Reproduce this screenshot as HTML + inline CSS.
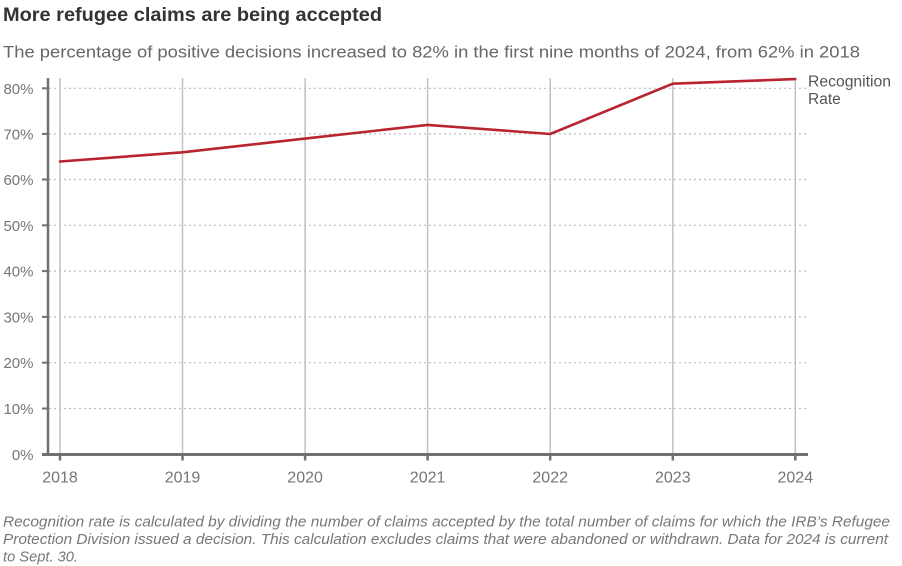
<!DOCTYPE html>
<html>
<head>
<meta charset="utf-8">
<style>
html,body{margin:0;padding:0;background:#fff;}
svg{display:block;}
text{font-family:"Liberation Sans",sans-serif;}
</style>
</head>
<body>
<svg width="902" height="566" viewBox="0 0 902 566" xmlns="http://www.w3.org/2000/svg">
  <rect width="902" height="566" fill="#fff"/>
  <!-- Title -->
  <text x="3" y="21" font-size="19" font-weight="bold" fill="#333" textLength="379" lengthAdjust="spacingAndGlyphs">More refugee claims are being accepted</text>
  <text x="3" y="57.3" font-size="17" fill="#666" textLength="857" lengthAdjust="spacingAndGlyphs">The percentage of positive decisions increased to 82% in the first nine months of 2024, from 62% in 2018</text>

  <!-- horizontal dotted gridlines -->
  <g stroke="#bdbdbd" stroke-width="1.2" stroke-dasharray="2,3">
    <line x1="49" y1="88.3" x2="806" y2="88.3"/>
    <line x1="49" y1="133.9" x2="806" y2="133.9"/>
    <line x1="49" y1="179.5" x2="806" y2="179.5"/>
    <line x1="49" y1="225.3" x2="806" y2="225.3"/>
    <line x1="49" y1="271.1" x2="806" y2="271.1"/>
    <line x1="49" y1="316.9" x2="806" y2="316.9"/>
    <line x1="49" y1="362.7" x2="806" y2="362.7"/>
    <line x1="49" y1="408.5" x2="806" y2="408.5"/>
  </g>

  <!-- vertical gridlines -->
  <g stroke="#c2c2c2" stroke-width="1.5">
    <line x1="60" y1="78" x2="60" y2="454"/>
    <line x1="182.5" y1="78" x2="182.5" y2="454"/>
    <line x1="305.1" y1="78" x2="305.1" y2="454"/>
    <line x1="427.6" y1="78" x2="427.6" y2="454"/>
    <line x1="550.2" y1="78" x2="550.2" y2="454"/>
    <line x1="672.8" y1="78" x2="672.8" y2="454"/>
    <line x1="795.3" y1="78" x2="795.3" y2="454"/>
  </g>

  <!-- axes -->
  <g stroke="#707070">
    <line x1="48" y1="78" x2="48" y2="455" stroke-width="2.5"/>
    <line x1="42" y1="454.5" x2="808" y2="454.5" stroke-width="3"/>
    <g stroke-width="2">
      <line x1="42" y1="88.3" x2="48" y2="88.3"/>
      <line x1="42" y1="133.9" x2="48" y2="133.9"/>
      <line x1="42" y1="179.5" x2="48" y2="179.5"/>
      <line x1="42" y1="225.3" x2="48" y2="225.3"/>
      <line x1="42" y1="271.1" x2="48" y2="271.1"/>
      <line x1="42" y1="316.9" x2="48" y2="316.9"/>
      <line x1="42" y1="362.7" x2="48" y2="362.7"/>
      <line x1="42" y1="408.5" x2="48" y2="408.5"/>
    </g>
    <g stroke-width="2.5">
      <line x1="60" y1="454" x2="60" y2="460.5"/>
      <line x1="182.5" y1="454" x2="182.5" y2="460.5"/>
      <line x1="305.1" y1="454" x2="305.1" y2="460.5"/>
      <line x1="427.6" y1="454" x2="427.6" y2="460.5"/>
      <line x1="550.2" y1="454" x2="550.2" y2="460.5"/>
      <line x1="672.8" y1="454" x2="672.8" y2="460.5"/>
      <line x1="795.3" y1="454" x2="795.3" y2="460.5"/>
    </g>
  </g>

  <!-- y labels -->
  <g font-size="15" fill="#767676" text-anchor="end">
    <text x="33.5" y="93.8">80%</text>
    <text x="33.5" y="139.4">70%</text>
    <text x="33.5" y="185">60%</text>
    <text x="33.5" y="230.8">50%</text>
    <text x="33.5" y="276.6">40%</text>
    <text x="33.5" y="322.4">30%</text>
    <text x="33.5" y="368.2">20%</text>
    <text x="33.5" y="414">10%</text>
    <text x="33.5" y="460">0%</text>
  </g>

  <!-- x labels -->
  <g font-size="16" fill="#767676" text-anchor="middle">
    <text x="60" y="482.5">2018</text>
    <text x="182.5" y="482.5">2019</text>
    <text x="305.1" y="482.5">2020</text>
    <text x="427.6" y="482.5">2021</text>
    <text x="550.2" y="482.5">2022</text>
    <text x="672.8" y="482.5">2023</text>
    <text x="795.3" y="482.5">2024</text>
  </g>

  <!-- series -->
  <polyline fill="none" stroke="#b8242f" stroke-width="2.6" stroke-linejoin="round" stroke-linecap="round"
    points="60,161.5 182.5,152.3 305.1,138.6 427.6,124.9 550.2,134 672.8,83.7 795.3,79.1"/>

  <!-- legend label -->
  <g font-size="15.5" fill="#555">
    <text x="808" y="86.7" textLength="83" lengthAdjust="spacingAndGlyphs">Recognition</text>
    <text x="808" y="104">Rate</text>
  </g>

  <!-- footnote -->
  <g font-size="15" font-style="italic" fill="#777">
    <text x="3" y="526.7" textLength="887" lengthAdjust="spacingAndGlyphs">Recognition rate is calculated by dividing the number of claims accepted by the total number of claims for which the IRB’s Refugee</text>
    <text x="3" y="544.2" textLength="885" lengthAdjust="spacingAndGlyphs">Protection Division issued a decision. This calculation excludes claims that were abandoned or withdrawn. Data for 2024 is current</text>
    <text x="3" y="561.7" textLength="75" lengthAdjust="spacingAndGlyphs">to Sept. 30.</text>
  </g>
</svg>
</body>
</html>
